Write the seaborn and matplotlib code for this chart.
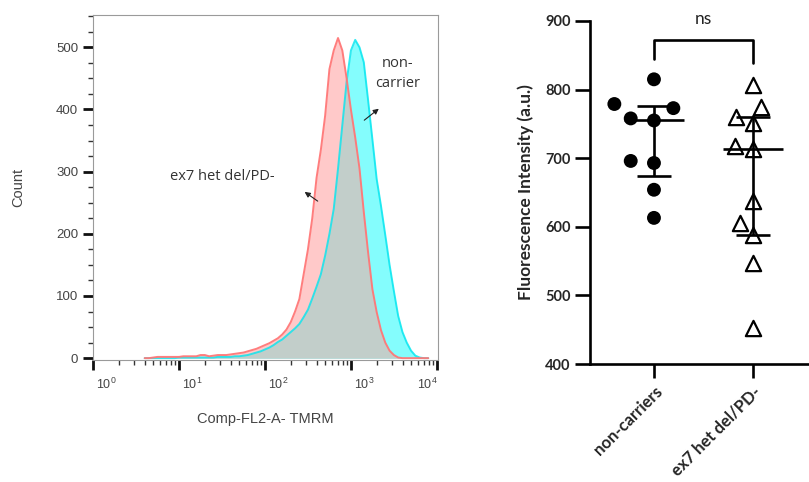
import numpy as np
import pandas as pd
import matplotlib
matplotlib.use("Agg")
import matplotlib.pyplot as plt
import matplotlib.transforms as mtrans
from matplotlib.ticker import FixedLocator, MultipleLocator
import seaborn as sns

# --- flow histogram (x in log10 units of Comp-FL2-A TMRM) ---
log_fl = np.round(np.arange(0.60, 3.901, 0.05), 2)
ex7_counts = [0, 0, 1, 2, 2, 2, 2, 2, 2, 3,
              3, 3, 3, 5, 5, 3, 4, 5, 5, 5,
              6, 7, 8, 9, 11, 13, 15, 18, 21, 24,
              28, 32, 38, 46, 58, 75, 95, 135, 175, 225,
              290, 335, 390, 465, 495, 515, 495, 450, 400, 355,
              305, 235, 170, 111, 74, 45, 25, 12, 5, 1,
              0, 0, 0, 0, 0, 0, 0]
noncarrier_counts = [0, 0, 0, 0, 0, 0, 0, 0, 1, 1,
                     1, 1, 1, 1, 1, 1, 1, 2, 2, 2,
                     2, 3, 3, 4, 5, 7, 9, 11, 14, 17,
                     21, 26, 30, 36, 42, 48, 55, 66, 78, 96,
                     115, 135, 165, 200, 240, 305, 375, 445, 495, 512,
                     500, 476, 415, 352, 288, 245, 198, 150, 108, 68,
                     42, 25, 12, 4, 1, 0, 0]
decades = [0, 1, 2, 3, 4]
decade_labels = [r"$\mathregular{10^{%d}}$" % d for d in decades]

# --- scatter panel ---
groups = ["non-carriers", "ex7 het del/PD-"]
noncarriers = [815, 779, 773, 758, 755, 696, 693, 654, 613]
ex7_het = [807, 774, 760, 751, 718, 714, 637, 606, 588, 547, 452]

sns.set_style("white")
plt.rcParams["font.family"] = ["Liberation Sans", "DejaVu Sans"]
plt.rcParams["mathtext.fontset"] = "custom"
plt.rcParams["mathtext.rm"] = "Liberation Sans"
plt.rcParams["mathtext.it"] = "Liberation Sans:italic"

fig = plt.figure(figsize=(8.09, 4.82), dpi=100)
ax1 = fig.add_axes([92.7 / 809, 1 - 360 / 482, 345 / 809, 345 / 482])
ax2 = fig.add_axes([590 / 809, 1 - 364 / 482, 218 / 809, 343 / 482])

# histogram overlay
overlap = np.minimum(ex7_counts, noncarrier_counts)
common = dict(x=log_fl, binwidth=0.05, binrange=(0.575, 3.925), element="poly", ax=ax1)
sns.histplot(weights=ex7_counts, fill=True, color="#ffc9c9", alpha=1, linewidth=0, **common)
sns.histplot(weights=noncarrier_counts, fill=True, color="#84fdfd", alpha=1, linewidth=0, **common)
sns.histplot(weights=overlap, fill=True, color="#c2ceca", alpha=1, linewidth=0, **common)
sns.histplot(weights=noncarrier_counts, fill=False, color="#00e5ee", alpha=0.8, linewidth=1.4, **common)
sns.histplot(weights=ex7_counts, fill=False, color="#ff7777", alpha=0.95, linewidth=1.4, **common)

ax1.set_xlim(-0.005, 4.01)
ax1.set_ylim(-3, 552)
ax1.xaxis.set_major_locator(FixedLocator(decades))
minor = [d + np.log10(k) for d in range(4) for k in range(2, 10)]
ax1.xaxis.set_minor_locator(FixedLocator(minor))
ax1.set_xticklabels(decade_labels)
ax1.yaxis.set_major_locator(MultipleLocator(100))
ax1.yaxis.set_minor_locator(MultipleLocator(25))
ax1.tick_params(which="both", bottom=True, left=True)
ax1.tick_params(which="major", direction="out", length=7, width=2, color="#111",
                labelcolor="#444", labelsize=9.5)
ax1.tick_params(axis="x", which="major", labelsize=9, pad=5)
ax1.tick_params(which="minor", direction="out", length=3.5, width=1, color="#333")
for s in ax1.spines.values():
    s.set_color("#9a9a9a")
    s.set_linewidth(0.8)
ax1.set_xlabel("Comp-FL2-A- TMRM", fontsize=10.5, color="#444")
ax1.set_ylabel("Count", fontsize=10.5, color="#444")
ax1.xaxis.set_label_coords(0.5, -0.15)
ax1.yaxis.set_label_coords(-0.196, 0.5)
# FlowJo puts the decade labels a little to the right of the ticks
for i, tick in enumerate(ax1.xaxis.get_major_ticks()):
    dx = -10 if i == len(decades) - 1 else 13
    off = mtrans.ScaledTranslation(dx / 100, 0, fig.dpi_scale_trans)
    tick.label1.set_transform(tick.label1.get_transform() + off)

ann_font = dict(family=["Open Sans", "DejaVu Sans"], fontsize=10.5, color="#333")
ax1.text(1.50, 293, "ex7 het del/PD-", ha="center", va="center", **ann_font)
ax1.annotate("", xy=(2.435, 270), xytext=(2.64, 250),
             arrowprops=dict(arrowstyle="-|>", color="#222", lw=0.8, mutation_scale=8))
ax1.text(3.54, 458, "non-\ncarrier", ha="center", va="center", linespacing=1.45, **ann_font)
ax1.annotate("", xy=(3.35, 404), xytext=(3.13, 380),
             arrowprops=dict(arrowstyle="-|>", color="#222", lw=0.8, mutation_scale=8))

# scatter with median + interquartile range
df = pd.DataFrame({
    "group": [groups[0]] * len(noncarriers) + [groups[1]] * len(ex7_het),
    "value": noncarriers + ex7_het,
})
# the transparent edge only widens the swarm spacing, like Prism's layout
sns.swarmplot(data=df[df.group == groups[0]], x="group", y="value", order=groups,
              color="black", size=10, marker="o", edgecolor="none", linewidth=6, ax=ax2)
sns.swarmplot(data=df[df.group == groups[1]], x="group", y="value", order=groups,
              color="black", size=11, marker="^", edgecolor="black", linewidth=1.6, ax=ax2)
ax2.collections[-1].set_facecolor("white")

for i, vals in enumerate([noncarriers, ex7_het]):
    med = np.median(vals)
    q1, q3 = np.percentile(vals, [25, 75], method="weibull")
    ax2.hlines(med, i - 0.30, i + 0.30, color="black", lw=1.9, zorder=4)
    ax2.hlines([q1, q3], i - 0.17, i + 0.17, color="black", lw=1.9, zorder=4)
    ax2.vlines(i, q1, q3, color="black", lw=1.9, zorder=4)

# significance bracket
ax2.plot([0, 0, 1, 1], [845, 872, 872, 839], color="black", lw=1.9, clip_on=False)
ax2.text(0.5, 903, "ns", ha="center", va="center", fontsize=12.5,
         family=["Lato", "DejaVu Sans"], color="#222", clip_on=False)

ax2.set_xlim(-0.646, 1.556)
ax2.set_ylim(400, 900)
ax2.yaxis.set_major_locator(MultipleLocator(100))
sns.despine(ax=ax2)
for s in ["left", "bottom"]:
    ax2.spines[s].set_linewidth(1.9)
    ax2.spines[s].set_color("black")
ax2.tick_params(bottom=True, left=True)
ax2.tick_params(axis="y", direction="out", length=11, width=1.9, pad=3, color="black")
ax2.tick_params(axis="x", direction="out", length=10, width=1.9, pad=4, color="black")
for lab in ax2.get_yticklabels():
    lab.set_fontfamily(["Lato", "DejaVu Sans"])
    lab.set_fontweight("bold")
    lab.set_fontsize(10.5)
ax2.set_xticks(range(len(groups)))
ax2.set_xticklabels(groups, rotation=45, ha="right", va="top", rotation_mode="anchor",
                    fontsize=12, fontweight="bold", family=["Lato", "DejaVu Sans"])
ax2.set_xlabel("")
ax2.set_ylabel("Fluorescence Intensity (a.u.)", fontsize=12.5, fontweight="bold",
               family=["Lato", "DejaVu Sans"], labelpad=8)

fig.savefig("out.png", dpi=100)
